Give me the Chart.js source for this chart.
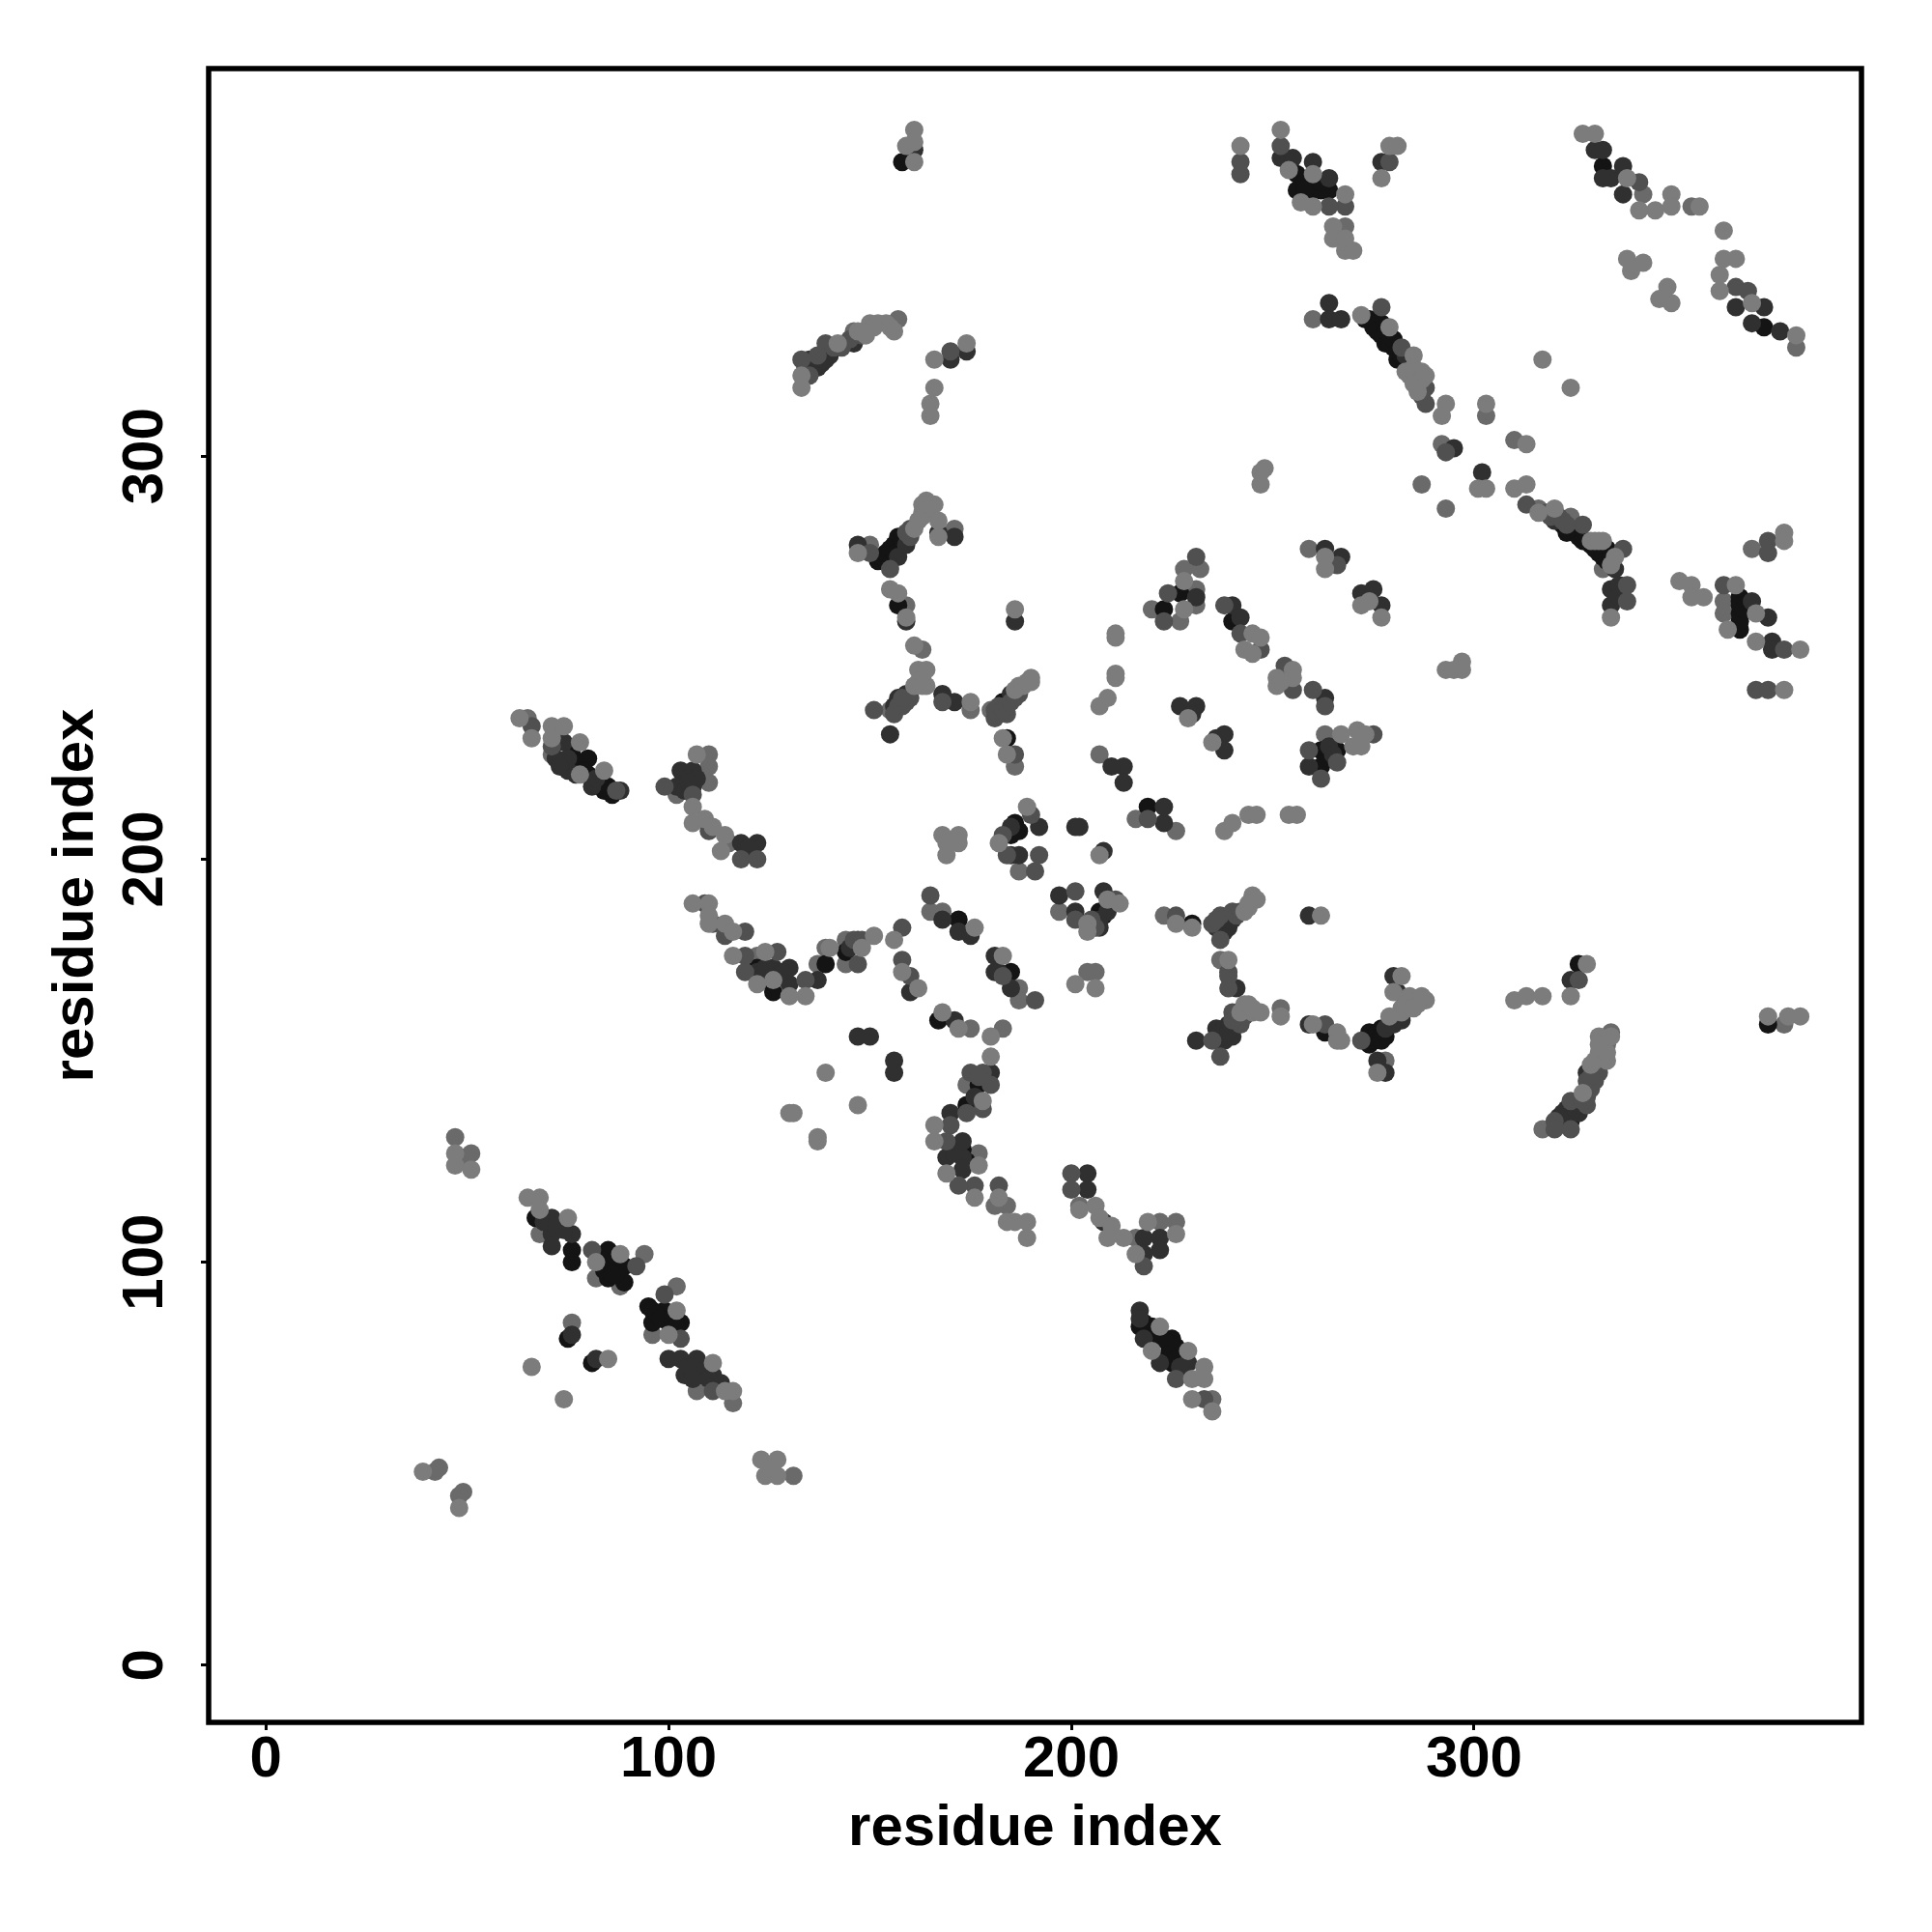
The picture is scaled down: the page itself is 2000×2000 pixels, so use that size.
<!DOCTYPE html>
<html>
<head>
<meta charset="utf-8">
<title>residue contact map</title>
<script src="https://cdn.jsdelivr.net/npm/chart.js@4/dist/chart.umd.min.js"></script>
<style>
  html, body { margin: 0; padding: 0; background: #fff; }
  canvas { display: block; }
</style>
</head>
<body>
<canvas id="contactChart" width="2000" height="2000"></canvas>
<script>
// residue index pairs, one list per grey level
const tickValues = [0, 100, 200, 300];
const axisTitle = "residue index";

const blackPoints = [[76,103],[76,100],[85,103],[89,99],[85,96],[89,95],[75,81],[81,75],[95,89],[96,85],[99,88],[100,85],[103,85],[67,111],
  [80,225],[84,217],[80,221],[139,174],[144,177],[122,173],[126,167],[172,185],[185,172],[186,209],[186,207],[177,144],[174,139],[167,160],
  [220,84],[217,84],[220,80],[225,81],[225,78],[225,75],[154,275],[155,274],[156,278],[157,280],[158,373],[157,263],
  [256,370],[256,366],[260,366],[264,366],[332,372],[372,332],[324,135],[373,159],[326,174],[274,157],[274,154],[276,156],[277,158],
  [273,334],[275,332],[277,333],[278,328],[280,327],[281,324],[324,282],[328,279],[331,276],[333,277],[366,264],[366,261],[366,257],
  [263,157],[230,184],[207,187],[208,186],[223,262],[227,266],[262,227],[262,223],[266,227],[240,259],[183,239],[184,230],[219,213],
  [76,226],[77,224],[79,222],[83,219],[85,218],[86,216],[83,101],[86,100],[87,97],[84,98],[86,97],[96,88],[97,87],[98,86],[101,86],[102,84],
  [152,274],[153,275],[154,276],[155,277],[156,276],[157,277],[158,279],[158,278],
  [274,334],[276,333],[276,331],[277,330],[278,331],[279,330],[279,328],[280,329],[281,326],[282,325],
  [322,283],[323,281],[325,281],[326,280],[327,279],[329,278],[330,277],[332,275],[333,274],[334,275],
  [275,155],[275,156],[276,157],[277,156],[278,156],[277,155],[258,368],[258,366],[262,366],[262,368],[366,265],[366,263],[366,259],[367,262],
  [174,125],[173,128],[218,85],[219,83],[221,82],[224,80],[226,79],[224,77],[226,76],[124,170],[264,225],[185,206],[187,207]];

const darkPoints = [[71,111],[71,107],[76,107],[71,104],[76,82],[82,76],[100,76],[103,76],[107,76],[104,72],[108,72],[111,72],
  [74,229],[75,225],[75,222],[81,218],[88,217],[103,222],[106,222],[106,218],[102,218],[118,204],[122,204],[120,203],
  [126,173],[130,173],[130,169],[137,170],[147,156],[150,156],[156,150],[156,147],[147,180],[168,185],[172,182],[175,181],[160,167],
  [181,176],[181,172],[182,172],[185,168],[155,231],[168,241],[171,239],[157,240],[156,238],[159,241],[185,241],
  [192,208],[187,201],[185,201],[197,191],[201,187],[208,192],[206,184],[201,208],[202,208],[208,202],
  [213,223],[210,223],[213,219],[223,209],[223,213],[227,238],[231,238],[230,236],[236,230],[238,231],[238,227],
  [231,265],[240,263],[242,260],[263,240],[171,160],[180,147],[170,137],[173,130],[169,126],[173,126],[173,123],[204,122],[204,118],
  [208,110],[218,106],[222,106],[218,102],[222,103],[217,88],[217,86],[218,81],[222,75],[229,75],
  [231,155],[236,158],[238,155],[239,159],[240,156],[239,183],[240,185],[241,168],[259,159],[259,186],
  [278,158],[280,160],[276,150],[278,147],[280,171],[281,167],[324,170],[323,138],[326,137],[328,147],[331,149],
  [135,324],[138,323],[146,328],[147,278],[157,275],[159,278],[167,281],[170,324],[171,280],[174,326],[159,259],[186,259],[161,376],
  [252,374],[255,374],[260,373],[264,369],[277,373],[330,376],[332,376],[332,369],[334,369],[337,372],[337,365],[365,337],[369,333],[372,337],[376,331],
  [264,338],[264,334],[267,334],[295,302],[302,296],[320,284],[335,272],[334,267],[334,263],[263,277],[267,275],[272,266],[275,267],[277,263],
  [369,264],[373,260],[374,254],[374,252],[259,223],
  [72,225],[73,223],[77,221],[82,220],[69,110],[72,109],[74,108],[105,74],[106,74],[109,73],[110,71],[106,71],[113,70],
  [134,322],[136,323],[137,322],[139,324],[140,325],[283,325],[284,324],[321,136],[322,135],[322,137],[324,137],[325,138],[326,139],
  [236,155],[237,156],[237,157],[238,157],[238,158],[239,158],[240,158],[239,157],[241,159],[236,183],[237,183],[238,184],[238,182],[239,185],
  [279,159],[280,159],[281,160],[282,160],[336,268],[336,265],[176,141],[171,127],[227,74],[105,220],[107,220],[104,217],[105,219],
  [122,172],[124,173],[128,172],[145,178],[264,228],[265,226],[185,208],[207,185],[207,183],[209,187]];

const midPoints = [[66,233],[71,228],[81,103],[92,99],[99,92],[103,81],[111,68],[87,217],[99,218],[106,216],[118,200],[122,200],[110,207],
  [109,189],[111,184],[114,181],[119,182],[119,176],[119,172],[127,177],[134,170],[147,174],[158,183],[158,175],[160,171],[165,191],[183,171],
  [191,165],[191,197],[184,201],[192,201],[190,211],[183,206],[201,192],[201,185],[206,183],[211,190],[219,210],[226,186],[151,237],[181,235],
  [184,236],[187,241],[186,226],[168,239],[160,282],[139,328],[137,325],[135,320],[133,324],[170,326],[150,276],[155,272],
  [175,147],[178,147],[180,144],[178,138],[170,134],[174,137],[169,130],[176,119],[172,119],[182,119],[200,122],[200,118],[218,99],[226,71],[233,66],
  [239,171],[239,168],[237,186],[235,184],[240,187],[237,180],[237,151],[235,155],[241,161],[242,159],[240,162],[263,159],[272,155],[239,172],
  [260,242],[263,238],[253,248],[238,263],[247,252],[275,231],[266,224],[262,220],[259,227],[242,256],
  [252,377],[242,373],[242,370],[268,362],[264,362],[279,373],[341,368],[365,342],[368,341],[377,252],[370,242],[373,242],[362,268],[373,279],[373,276],
  [277,337],[282,327],[327,283],[337,277],[338,268],[338,264],[288,317],[288,313],[293,301],[313,288],[266,273],[224,266],[223,259],[231,275],
  [320,135],[320,133],[324,133],[324,140],[328,139],[328,145],[331,147],[326,170],[255,242],
  [141,327],[143,327],[145,329],[148,330],[159,281],[160,280],[156,236],[157,238],[158,238],[159,239],[160,240],[158,240],
  [181,237],[182,238],[183,237],[184,238],[185,239],[186,240],[286,317],[287,315],[318,286],[319,285],[321,285],[322,284],[323,283],
  [327,140],[328,141],[329,143],[330,145],[329,146],[240,160],[241,162],[243,161],[241,186],[242,187],[236,185],[177,146],[146,180],[148,180],[205,185]];

const greyPoints = [[65,235],[71,226],[47,131],[49,126],[51,127],[42,48],[43,49],[49,43],[48,42],[82,96],[94,102],[76,85],[85,99],[88,94],[102,94],[96,82],
  [107,68],[116,65],[68,107],[110,226],[110,223],[110,219],[102,216],[115,204],[122,176],[137,174],[139,178],[144,180],[144,174],[168,187],[165,187],
  [187,168],[187,165],[175,158],[183,158],[177,127],[216,106],[222,110],[226,110],[202,114],[184,114],[181,114],[235,66],[131,47],[263,231],
  [204,172],[206,172],[186,223],[180,237],[175,237],[155,237],[144,328],[146,331],[157,334],[150,278],[171,282],[159,263],[163,252],[207,226],
  [187,197],[197,187],[223,186],[226,207],[216,210],[220,262],[228,272],[232,272],[231,267],[231,263],[227,259],[237,175],[252,163],[278,150],
  [377,159],[333,154],[334,157],[317,133],[303,310],[310,304],[287,293],[293,287],[292,303],[316,287],[324,285],[332,272],[259,277],[369,277],
  [362,264],[362,261],[380,327],[354,362],[342,365],[268,357],[260,334],[174,144]];

const lightPoints = [[63,235],[66,230],[71,233],[74,233],[71,230],[78,229],[78,221],[84,222],
  [47,127],[47,124],[51,123],[39,48],[48,39],[123,51],[127,51],[124,47],[127,47],[125,49],
  [65,116],[68,116],[68,113],[75,111],[88,102],[82,100],[102,88],[100,82],[111,75],[114,68],[116,68],[66,74],[74,66],[85,76],
  [139,147],[147,139],[130,137],[131,137],[137,131],[137,130],
  [107,226],[106,213],[106,209],[109,210],[111,208],[114,206],[113,202],[106,189],[110,189],[110,186],[110,184],[114,184],[116,182],[116,176],
  [124,177],[122,169],[126,170],[134,166],[130,166],[140,178],[148,178],[151,181],[156,180],[158,172],[162,168],[176,183],[183,176],
  [168,162],[172,158],[180,156],[189,213],[182,204],[204,184],[204,182],[209,190],[212,189],[207,201],[201,169],[206,168],
  [168,206],[172,206],[172,204],[169,204],[169,201],[190,245],[187,243],[162,244],[164,243],[175,239],[183,230],[184,226],
  [180,151],[178,140],[166,134],[166,130],[169,122],[177,124],[176,116],[182,116],[184,110],[186,110],[189,110],[189,106],
  [206,114],[207,111],[210,109],[209,106],[213,106],[219,110],[226,107],[202,113],[216,102],[222,84],[229,78],[233,74],[233,71],[230,71],[230,66],[235,63],[220,78],
  [243,164],[242,162],[245,162],[247,162],[252,161],[260,159],[266,157],[266,155],[267,155],
  [226,184],[230,183],[245,191],[245,190],[243,187],[239,175],[262,186],
  [211,255],[211,256],[211,246],[211,245],[209,240],[207,238],[229,235],[235,229],[238,207],[240,209],[244,211],[246,211],[254,211],[256,211],[228,269],[228,262],
  [245,256],[247,255],[243,252],[245,251],[251,245],[255,247],[255,245],[251,243],[252,244],[267,231],[271,232],[273,231],[270,228],[272,228],
  [282,162],[284,165],[286,165],[288,165],[284,166],[282,163],[279,161],[280,167],[282,171],[276,147],
  [310,165],[313,166],[317,166],[324,166],[328,174],[373,161],[378,161],[381,161],
  [327,142],[330,150],[333,150],[331,156],[331,154],
  [161,381],[159,377],[161,378],[161,373],[159,260],
  [133,317],[133,320],[142,328],[150,333],[149,330],[154,333],[156,331],
  [166,324],[174,328],[166,317],[165,313],[165,310],
  [147,276],[162,284],[163,286],[164,289],[166,288],[167,284],[167,280],
  [155,267],[157,266],[186,262],[161,253],[162,247],[163,245],[164,247],
  [242,377],[252,381],[254,371],[260,370],[268,365],[257,363],[260,362],[265,357],[265,354],[268,354],[268,351],[270,351],[279,377],[281,377],[277,369],
  [327,380],[330,380],[338,369],[341,361],[345,361],[349,365],[349,362],[356,362],[362,356],[362,349],[365,349],
  [338,349],[342,348],[339,346],[348,342],[346,339],[349,338],[361,345],[361,341],[369,338],[380,330],
  [272,335],[279,332],[285,325],[284,320],[287,321],[286,316],[293,313],[292,310],[303,313],[317,324],[324,317],[313,303],
  [301,292],[303,292],[310,292],[313,293],[320,287],[316,286],[330,279],[332,279],[335,275],[334,260],
  [248,297],[247,296],[247,293],[263,275],[263,272],[272,263],[274,264],[277,260],[293,247],[297,249],[295,247],[297,247],
  [351,269],[354,268],[354,265],[357,265],[365,268],[363,257],[370,261],[370,254],[381,252],[377,242],[377,281],[377,279],
  [147,331],[151,332],[152,333],[155,332],[161,282],[163,285],[164,287],[163,288],[165,288],[161,243],[163,243],[186,242],[188,243],[189,244],[190,244],
  [285,322],[286,321],[283,321],[287,319],[285,318],[288,320],[329,279],[331,279],[334,273],[331,152],[332,153],[333,152],[334,156],[329,149],
  [243,163],[244,164],[245,163],[244,189],[246,190],[244,188],[283,163],[283,164],[285,165],[286,164],[287,166],[285,163]];

// bottom layer first when drawn
const layers = [
  { points: greyPoints, color: "#6a6a6a" },
  { points: blackPoints, color: "#141414" },
  { points: darkPoints, color: "#303030" },
  { points: midPoints, color: "#505050" },
  { points: lightPoints, color: "#7c7c7c" }
];

const axisFont = { family: "'Liberation Sans', Arial, sans-serif", size: 60, weight: "bold" };

// box round the plot area
const framePlugin = {
  id: "frame",
  afterDraw(chart) {
    const { ctx, chartArea: a } = chart;
    ctx.save();
    ctx.strokeStyle = "#000";
    ctx.lineWidth = 5.5;
    ctx.strokeRect(a.left, a.top, a.right - a.left, a.bottom - a.top);
    ctx.restore();
  }
};

function axisOptions(fit, rotation, crossAlign, tickPadding, titlePadding) {
  return {
    type: "linear",
    min: -14.2,
    max: 396.2,
    afterBuildTicks(scale) {
      scale.ticks = tickValues.map(v => ({ value: v }));
    },
    afterFit: fit,
    border: { display: false },
    grid: { drawOnChartArea: false, tickLength: 8, tickWidth: 3, tickColor: "#000" },
    ticks: {
      color: "#000",
      font: axisFont,
      padding: tickPadding,
      minRotation: rotation,
      maxRotation: rotation,
      crossAlign: crossAlign,
      autoSkip: false
    },
    title: { display: true, text: axisTitle, color: "#000", font: axisFont, padding: titlePadding }
  };
}

new Chart(document.getElementById("contactChart").getContext("2d"), {
  type: "scatter",
  data: {
    datasets: layers.map((layer, i) => ({
      data: layer.points.map(p => ({ x: p[0], y: p[1] })),
      backgroundColor: layer.color,
      borderWidth: 0,
      pointRadius: 9.5,
      order: layers.length - i
    }))
  },
  options: {
    responsive: false,
    animation: false,
    layout: { padding: { top: 71, right: 73, left: 0, bottom: 0 } },
    plugins: { legend: { display: false }, tooltip: { enabled: false } },
    scales: {
      x: axisOptions(s => { s.height = 217; }, 0, "near", -5, { top: 0, bottom: 71 }),
      y: axisOptions(s => { s.width = 216; }, 90, "center", 6, { top: 43, bottom: 0 })
    }
  },
  plugins: [framePlugin]
});
</script>
</body>
</html>
